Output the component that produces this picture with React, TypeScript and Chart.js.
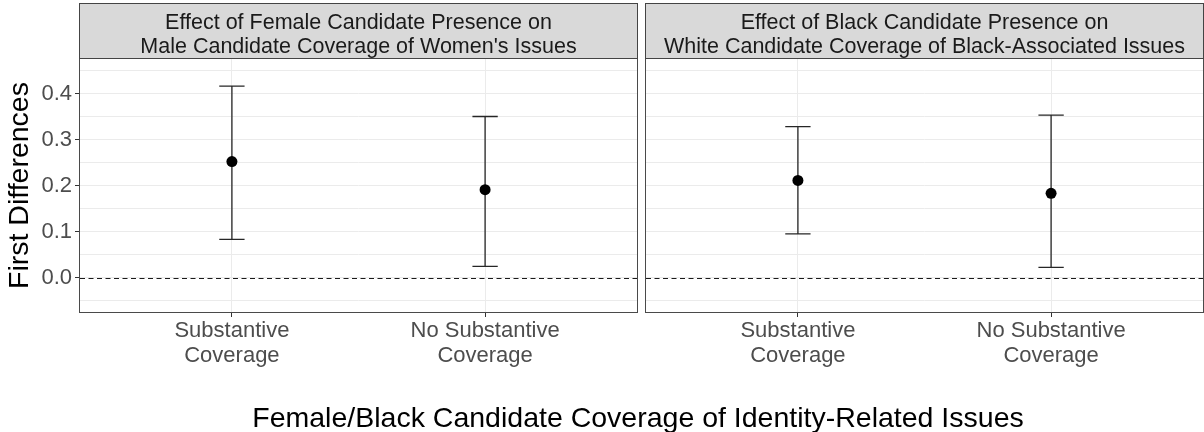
import React, { useEffect, useRef } from "react";
import { Chart, registerables } from "chart.js";

Chart.register(...registerables);

// ---- data ----
const categories = [1, 2];
const categoryLabels = [
  ["Substantive", "Coverage"],
  ["No Substantive", "Coverage"],
];
const femaleTitle = [
  "Effect of Female Candidate Presence on",
  "Male Candidate Coverage of Women's Issues",
];
const blackTitle = [
  "Effect of Black Candidate Presence on",
  "White Candidate Coverage of Black-Associated Issues",
];
const femaleEstimate = [0.253, 0.192];
const femaleLower = [0.084, 0.025];
const femaleUpper = [0.417, 0.351];
const blackEstimate = [0.212, 0.184];
const blackLower = [0.096, 0.023];
const blackUpper = [0.329, 0.354];
const yMajorTicks = [0, 0.1, 0.2, 0.3, 0.4];
const yMinorTicks = [-0.05, 0.05, 0.15, 0.25, 0.35, 0.45];
const yTitle = "First Differences";
const xTitle = "Female/Black Candidate Coverage of Identity-Related Issues";

const FONT = "'Liberation Sans', Arial, Helvetica, sans-serif";
Chart.defaults.font.family = FONT;

const isMajor = (v: number) => yMajorTicks.some((m) => Math.abs(m - v) < 1e-9);

const panelPlugin = {
  id: "panel",
  beforeDatasetsDraw(chart: any, _args: any, opts: any) {
    const { ctx, chartArea: a, scales } = chart;
    const xs = scales.x;
    const ys = scales.y;
    ctx.save();
    // reference line at zero
    const y0 = Math.round(ys.getPixelForValue(0)) + 0.5;
    ctx.strokeStyle = "#1a1a1a";
    ctx.lineWidth = 1.2;
    ctx.setLineDash([5, 3.5]);
    ctx.beginPath();
    ctx.moveTo(a.left, y0);
    ctx.lineTo(a.right, y0);
    ctx.stroke();
    ctx.setLineDash([]);
    // error bars
    ctx.strokeStyle = "#262626";
    ctx.lineWidth = 1.3;
    opts.lower.forEach((lo: number, i: number) => {
      const c = opts.cats[i];
      const xc = xs.getPixelForValue(c);
      const xl = xs.getPixelForValue(c - opts.capWidth / 2);
      const xr = xs.getPixelForValue(c + opts.capWidth / 2);
      const yl = ys.getPixelForValue(lo);
      const yu = ys.getPixelForValue(opts.upper[i]);
      ctx.beginPath();
      ctx.moveTo(xc, yl);
      ctx.lineTo(xc, yu);
      ctx.moveTo(xl, yl);
      ctx.lineTo(xr, yl);
      ctx.moveTo(xl, yu);
      ctx.lineTo(xr, yu);
      ctx.stroke();
    });
    ctx.restore();
  },
  afterDraw(chart: any, _args: any, opts: any) {
    const { ctx, chartArea: a } = chart;
    const w = a.right - a.left;
    ctx.save();
    // panel border
    ctx.strokeStyle = "#4a4a4a";
    ctx.lineWidth = 1;
    ctx.strokeRect(a.left - 0.5, a.top - 0.5, w + 1, a.bottom - a.top + 1);
    // strip
    ctx.fillStyle = "#d9d9d9";
    ctx.fillRect(a.left - 0.5, 3.5, w + 1, a.top - 4);
    ctx.strokeStyle = "#444";
    ctx.strokeRect(a.left - 0.5, 3.5, w + 1, a.top - 4);
    ctx.fillStyle = "#1a1a1a";
    ctx.font = `21.5px ${FONT}`;
    ctx.textAlign = "center";
    ctx.textBaseline = "alphabetic";
    const cx = (a.left + a.right) / 2;
    ctx.fillText(opts.title[0], cx, 28.5);
    ctx.fillText(opts.title[1], cx, 52.5);
    ctx.restore();
  },
};

function makeConfig(p: {
  estimate: number[];
  lower: number[];
  upper: number[];
  title: string[];
  showY: boolean;
  yWidth: number;
  padRight: number;
}): any {
  return {
    type: "scatter",
    data: {
      datasets: [
        {
          data: categories.map((c, i) => ({ x: c, y: p.estimate[i] })),
          backgroundColor: "#000",
          borderWidth: 0,
          pointRadius: 5.5,
          pointHoverRadius: 5.5,
        },
      ],
    },
    plugins: [panelPlugin],
    options: {
      responsive: false,
      animation: false,
      events: [],
      layout: {
        autoPadding: false,
        padding: { top: 59, right: p.padRight, left: 0, bottom: 0 },
      },
      plugins: {
        legend: { display: false },
        tooltip: { enabled: false },
        panel: {
          cats: categories,
          lower: p.lower,
          upper: p.upper,
          capWidth: 0.1,
          title: p.title,
        },
      },
      scales: {
        x: {
          type: "linear",
          min: 0.4,
          max: 2.6,
          afterBuildTicks: (s: any) => {
            s.ticks = categories.map((v) => ({ value: v }));
          },
          afterFit: (s: any) => {
            s.height = 120;
          },
          ticks: {
            autoSkip: false,
            maxRotation: 0,
            minRotation: 0,
            font: { size: 22, lineHeight: 1.12 },
            color: "#4d4d4d",
            padding: 2,
            callback: (_v: any, i: number) => categoryLabels[i],
          },
          grid: {
            color: "#ebebeb",
            lineWidth: 1,
            tickLength: 5,
            tickColor: "#333",
          },
          border: { display: false },
        },
        y: {
          type: "linear",
          min: -0.074,
          max: 0.476,
          afterBuildTicks: (s: any) => {
            s.ticks = [...yMinorTicks, ...yMajorTicks]
              .sort((a, b) => a - b)
              .map((v) => ({ value: v }));
          },
          afterFit: (s: any) => {
            s.width = p.yWidth;
          },
          ticks: {
            display: p.showY,
            autoSkip: false,
            font: { size: 22 },
            color: "#4d4d4d",
            padding: 3,
            callback: (v: any) => (isMajor(Number(v)) ? Number(v).toFixed(1) : ""),
          },
          grid: {
            color: "#ebebeb",
            lineWidth: 1,
            drawTicks: p.showY,
            tickLength: 5,
            tickColor: (ctx: any) =>
              ctx.tick && isMajor(ctx.tick.value) ? "#333" : "rgba(0,0,0,0)",
          },
          border: { display: false },
          title: {
            display: p.showY,
            text: yTitle,
            font: { size: 28.5 },
            color: "#000",
            padding: { top: 3, bottom: 0 },
          },
        },
      },
    },
  };
}

export default function App() {
  const leftRef = useRef<HTMLCanvasElement>(null);
  const rightRef = useRef<HTMLCanvasElement>(null);

  useEffect(() => {
    const left = new Chart(
      leftRef.current!,
      makeConfig({
        estimate: femaleEstimate,
        lower: femaleLower,
        upper: femaleUpper,
        title: femaleTitle,
        showY: true,
        yWidth: 80,
        padRight: 3,
      })
    );
    const right = new Chart(
      rightRef.current!,
      makeConfig({
        estimate: blackEstimate,
        lower: blackLower,
        upper: blackUpper,
        title: blackTitle,
        showY: false,
        yWidth: 6,
        padRight: 1,
      })
    );
    return () => {
      left.destroy();
      right.destroy();
    };
  }, []);

  return (
    <div
      style={{
        position: "fixed",
        left: 0,
        top: 0,
        width: 1204,
        height: 432,
        background: "#fff",
        overflow: "hidden",
      }}
    >
      <canvas
        ref={leftRef}
        width={640}
        height={432}
        style={{ position: "absolute", left: 0, top: 0, width: 640, height: 432 }}
      />
      <canvas
        ref={rightRef}
        width={564}
        height={432}
        style={{ position: "absolute", left: 640, top: 0, width: 564, height: 432 }}
      />
      <div
        style={{
          position: "absolute",
          left: 638,
          top: 403,
          transform: "translateX(-50%)",
          whiteSpace: "nowrap",
          fontFamily: FONT,
          fontSize: 28.5,
          lineHeight: "28.5px",
          color: "#000",
        }}
      >
        {xTitle}
      </div>
    </div>
  );
}
